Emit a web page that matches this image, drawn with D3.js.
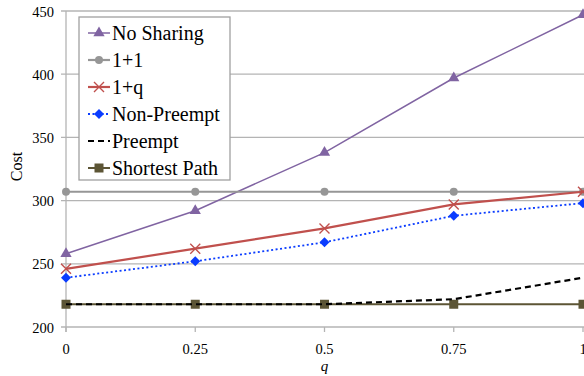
<!DOCTYPE html>
<html>
<head>
<meta charset="utf-8">
<script src="https://cdn.jsdelivr.net/npm/d3@7"></script>
<style>
  body { margin: 0; background: #fff; }
</style>
</head>
<body>
<div id="chart"></div>
<script>
// data
let qValues = [0, 0.25, 0.5, 0.75, 1];
let qLabels = ["0", "0.25", "0.5", "0.75", "1"];
let yTicks = [200, 250, 300, 350, 400, 450];

let noSharing = [258, 292, 338, 397, 447];
let onePlusOne = [307, 307, 307, 307, 307];
let onePlusQ = [246, 262, 278, 297, 307];
let nonPreempt = [239, 252, 267, 288, 298];
let preempt = [218, 218, 218, 222, 239];
let shortestPath = [218, 218, 218, 218, 218];

let seriesNames = ["No Sharing", "1+1", "1+q", "Non-Preempt", "Preempt", "Shortest Path"];

let svgWidth = 584;
let svgHeight = 376;

let margin = { top: 11, right: 1, bottom: 49, left: 66 };
let width = svgWidth - margin.left - margin.right;
let height = svgHeight - margin.top - margin.bottom;

let svg = d3.select("#chart")
  .append("svg")
  .attr("width", svgWidth)
  .attr("height", svgHeight)
  .attr("font-family", "'Liberation Serif', 'Times New Roman', Times, serif");

let chartGroup = svg.append("g")
  .attr("transform", `translate(${margin.left}, ${margin.top})`);

let x = d3.scaleLinear().domain([0, 1]).range([0, width]);
let y = d3.scaleLinear().domain([200, 450]).range([height, 0]);

// gridlines
chartGroup.append("g")
  .selectAll("line")
  .data(yTicks)
  .enter()
  .append("line")
    .attr("x1", -5)
    .attr("x2", width + 2)
    .attr("y1", d => y(d))
    .attr("y2", d => y(d))
    .attr("stroke", "#b4b4b4")
    .attr("stroke-width", 1.3);

// y axis line
chartGroup.append("line")
  .attr("x1", 0).attr("x2", 0)
  .attr("y1", 0).attr("y2", height + 5)
  .attr("stroke", "#b4b4b4")
  .attr("stroke-width", 1.3);

// x tick marks
chartGroup.append("g")
  .selectAll("line")
  .data(qValues)
  .enter()
  .append("line")
    .attr("x1", d => x(d)).attr("x2", d => x(d))
    .attr("y1", height).attr("y2", height + 5)
    .attr("stroke", "#b4b4b4")
    .attr("stroke-width", 1.3);

// tick labels
chartGroup.append("g")
  .selectAll("text")
  .data(yTicks)
  .enter()
  .append("text")
    .attr("x", -12)
    .attr("y", d => y(d))
    .attr("dy", "0.38em")
    .attr("text-anchor", "end")
    .attr("font-size", 14.5)
    .text(d => d);

// the last label sits on the page edge, as in the original
chartGroup.append("g")
  .selectAll("text")
  .data(qValues)
  .enter()
  .append("text")
    .attr("x", d => x(d))
    .attr("y", height + 27)
    .attr("text-anchor", "middle")
    .attr("font-size", 14.5)
    .text((d, i) => qLabels[i]);

// axis titles
chartGroup.append("text")
  .attr("x", x(0.5))
  .attr("y", height + 44)
  .attr("text-anchor", "middle")
  .attr("font-size", 15)
  .attr("font-style", "italic")
  .text("q");

svg.append("text")
  .attr("transform", `translate(22, ${margin.top + y(327)}) rotate(-90)`)
  .attr("text-anchor", "middle")
  .attr("font-size", 16)
  .text("Cost");

// series styles
let styles = [
  { values: noSharing, color: "#8064a2", width: 1.5, dash: null, marker: "triangle" },
  { values: onePlusOne, color: "#969696", width: 2.2, dash: null, marker: "circle" },
  { values: onePlusQ, color: "#c0504d", width: 2.2, dash: null, marker: "cross" },
  { values: nonPreempt, color: "#0a3cff", width: 1.8, dash: "2,2.5", marker: "diamond" },
  { values: preempt, color: "#000000", width: 2.2, dash: "6,4", marker: null },
  { values: shortestPath, color: "#5c5535", width: 2, dash: null, marker: "square" }
];

let line = d3.line()
  .x((d, i) => x(qValues[i]))
  .y(d => y(d));

function drawMarker(g, type, color, cx, cy) {
  if (type === "triangle") {
    g.append("path")
      .attr("d", d3.symbol().type(d3.symbolTriangle).size(55)())
      .attr("transform", `translate(${cx}, ${cy})`)
      .attr("fill", color);
  } else if (type === "circle") {
    g.append("circle")
      .attr("cx", cx).attr("cy", cy).attr("r", 4)
      .attr("fill", color);
  } else if (type === "cross") {
    g.append("path")
      .attr("d", `M${cx - 5},${cy - 5}L${cx + 5},${cy + 5}M${cx - 5},${cy + 5}L${cx + 5},${cy - 5}`)
      .attr("stroke", color)
      .attr("stroke-width", 1.4)
      .attr("fill", "none");
  } else if (type === "diamond") {
    g.append("path")
      .attr("d", `M${cx},${cy - 5}L${cx + 5},${cy}L${cx},${cy + 5}L${cx - 5},${cy}Z`)
      .attr("fill", color);
  } else if (type === "square") {
    g.append("rect")
      .attr("x", cx - 4.5).attr("y", cy - 4.5)
      .attr("width", 9).attr("height", 9)
      .attr("fill", color);
  }
}

// draw series (shortest path first so preempt dashes sit on top)
let drawOrder = [0, 1, 2, 3, 5, 4];
drawOrder.forEach(k => {
  let s = styles[k];
  let g = chartGroup.append("g");
  g.append("path")
    .datum(s.values)
    .attr("d", line)
    .attr("fill", "none")
    .attr("stroke", s.color)
    .attr("stroke-width", s.width)
    .attr("stroke-dasharray", s.dash);
  if (s.marker) {
    s.values.forEach((v, i) => drawMarker(g, s.marker, s.color, x(qValues[i]), y(v)));
  }
});

// legend
let legend = svg.append("g").attr("transform", "translate(79, 17)");
legend.append("rect")
  .attr("x", 0).attr("y", 0)
  .attr("width", 151).attr("height", 163)
  .attr("fill", "#fff")
  .attr("stroke", "#a0a0a0")
  .attr("stroke-width", 1.3);

seriesNames.forEach((name, i) => {
  let s = styles[i];
  let ly = 16 + i * 27;
  let g = legend.append("g");
  g.append("line")
    .attr("x1", 9).attr("x2", 31)
    .attr("y1", ly).attr("y2", ly)
    .attr("stroke", s.color)
    .attr("stroke-width", s.width)
    .attr("stroke-dasharray", s.dash);
  if (s.marker) drawMarker(g, s.marker, s.color, 20, ly);
  g.append("text")
    .attr("x", 33)
    .attr("y", ly)
    .attr("dy", "0.35em")
    .attr("font-size", 20)
    .text(name);
});
</script>
</body>
</html>
